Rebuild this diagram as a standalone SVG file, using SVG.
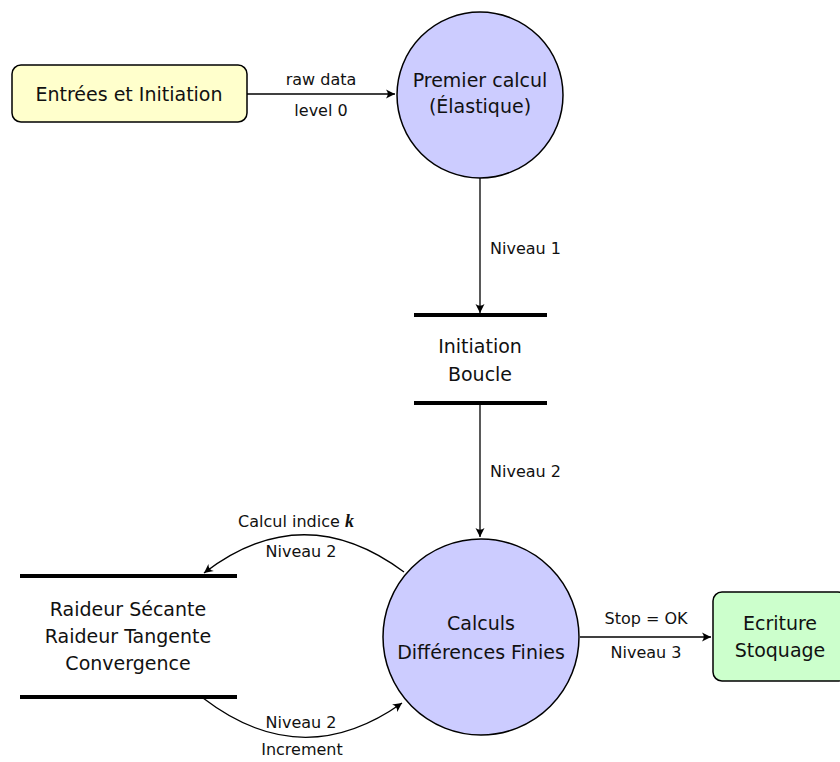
<svg xmlns="http://www.w3.org/2000/svg" width="840" height="762" viewBox="0 0 840 762">
<style>
.t{font-family:"DejaVu Sans","Liberation Sans",sans-serif;font-size:19px;fill:#111;text-anchor:middle}
.l{font-family:"DejaVu Sans","Liberation Sans",sans-serif;font-size:16px;fill:#111;text-anchor:middle}
.ls{text-anchor:start}
.c{fill:#CCCCFF;stroke:#000;stroke-width:1.5}
.bar{stroke:#000;stroke-width:4}
.e{fill:none;stroke:#000;stroke-width:1.3;marker-end:url(#ah)}
</style>
<defs>
<marker id="ah" markerUnits="userSpaceOnUse" markerWidth="12" markerHeight="12" refX="0" refY="0" viewBox="-10 -6 12 12" orient="auto" overflow="visible">
<path d="M0,0 L-9,-4.5 Q-5.5,0 -9,4.5 Z" fill="#000"/>
</marker>
</defs>
<g id="connectors">
<path class="e" d="M247,94 L395,94"/>
<path class="e" d="M480,178 L480,313"/>
<path class="e" d="M480,404 L480,537"/>
<path class="e" d="M404,572 Q303,497 204,573"/>
<path class="e" d="M203,698 Q302,774 402,703"/>
<path class="e" d="M580,637 L711,637"/>
<text class="l" x="321" y="85">raw data</text>
<text class="l" x="321" y="116">level 0</text>
<text class="l ls" x="490" y="254">Niveau 1</text>
<text class="l ls" x="490" y="477">Niveau 2</text>
<text class="l" x="296" y="527">Calcul indice <tspan font-family="Liberation Serif, serif" font-style="italic" font-weight="bold" font-size="18">k</tspan></text>
<text class="l" x="301" y="557">Niveau 2</text>
<text class="l" x="301" y="728">Niveau 2</text>
<text class="l" x="302" y="755">Increment</text>
<text class="l" x="646" y="624">Stop = OK</text>
<text class="l" x="646" y="658">Niveau 3</text>
</g>
<g id="entrees">
<rect x="12" y="65" width="235" height="57" rx="9" fill="#FFFFCC" stroke="#000" stroke-width="1.5"/>
<text class="t" x="129" y="101">Entrées et Initiation</text>
</g>
<g id="premier">
<circle class="c" cx="480" cy="95" r="83"/>
<text class="t" x="480" y="87">Premier calcul</text>
<text class="t" x="480" y="113">(Élastique)</text>
</g>
<g id="initiation">
<line class="bar" x1="414" y1="315" x2="547" y2="315"/>
<line class="bar" x1="414" y1="403" x2="547" y2="403"/>
<text class="t" x="480" y="353">Initiation</text>
<text class="t" x="480" y="381">Boucle</text>
</g>
<g id="calculs">
<circle class="c" cx="481" cy="637" r="98"/>
<text class="t" x="481" y="630">Calculs</text>
<text class="t" x="481" y="659">Différences Finies</text>
</g>
<g id="raideur">
<line class="bar" x1="20" y1="576" x2="237" y2="576"/>
<line class="bar" x1="20" y1="697" x2="237" y2="697"/>
<text class="t" x="128" y="616">Raideur Sécante</text>
<text class="t" x="128" y="643">Raideur Tangente</text>
<text class="t" x="128" y="670">Convergence</text>
</g>
<g id="ecriture">
<rect x="713" y="592" width="134" height="89" rx="9" fill="#CCFFCC" stroke="#000" stroke-width="1.5"/>
<text class="t" x="780" y="630">Ecriture</text>
<text class="t" x="780" y="657">Stoquage</text>
</g>
</svg>
